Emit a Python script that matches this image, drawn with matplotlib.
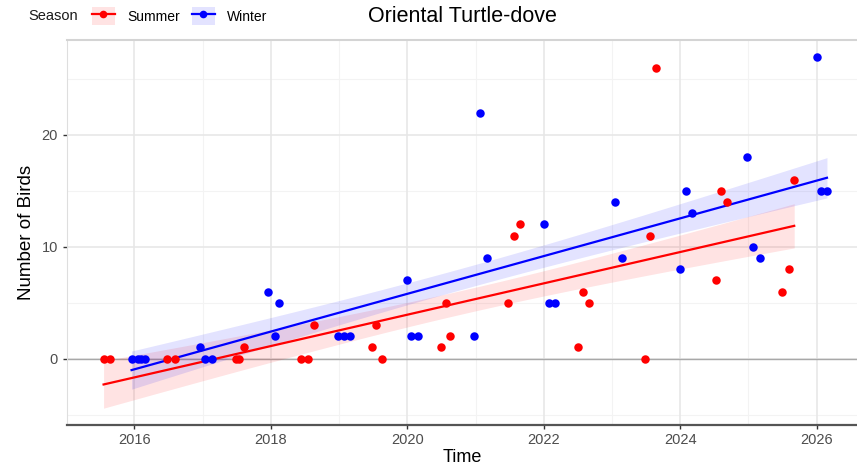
import numpy as np
import matplotlib
matplotlib.use("Agg")
import matplotlib.pyplot as plt
from matplotlib.lines import Line2D
from matplotlib.patches import Patch

plt.rcParams['font.family'] = ['Liberation Sans', 'DejaVu Sans']

summer_t = [2015.55, 2015.64, 2016.48, 2016.60, 2017.49, 2017.53, 2017.61, 2018.45, 2018.54, 2018.64,
            2019.48, 2019.54, 2019.63, 2020.49, 2020.57, 2020.63, 2021.48, 2021.57, 2021.65,
            2022.50, 2022.57, 2022.66, 2023.48, 2023.55, 2023.65, 2024.52, 2024.60, 2024.68,
            2025.49, 2025.59, 2025.67]
summer_n = [0, 0, 0, 0, 0, 0, 1, 0, 0, 3,
            1, 3, 0, 1, 5, 2, 5, 11, 12,
            1, 6, 5, 0, 11, 26, 7, 15, 14,
            6, 8, 16]
winter_t = [2015.96, 2016.05, 2016.10, 2016.15, 2016.97, 2017.03, 2017.14, 2017.96, 2018.06, 2018.12,
            2018.98, 2019.07, 2019.16, 2019.99, 2020.05, 2020.16, 2020.98, 2021.07, 2021.17,
            2022.00, 2022.07, 2022.17, 2023.05, 2023.15, 2023.99, 2024.09, 2024.17,
            2024.98, 2025.07, 2025.17, 2026.00, 2026.06, 2026.15]
winter_n = [0, 0, 0, 0, 1, 0, 0, 6, 2, 5,
            2, 2, 2, 7, 2, 2, 2, 22, 9,
            12, 5, 5, 14, 9, 8, 15, 13,
            18, 10, 9, 27, 15, 15]

seasons = ["Summer", "Winter"]
colors = {"Summer": "#FF0000", "Winter": "#0000FF"}
fills = {"Summer": (1.0, 0.0, 0.0, 0.11), "Winter": (0.0, 0.0, 1.0, 0.11)}
data = {"Summer": (summer_t, summer_n), "Winter": (winter_t, winter_n)}

x_ticks = [2016, 2018, 2020, 2022, 2024, 2026]
y_ticks = [0, 10, 20]

fig = plt.figure(figsize=(8.57, 4.76), dpi=100)
ax = fig.add_axes([67 / 857, 51 / 476, (857 - 67) / 857, (425 - 40) / 476])

ax.set_xlim(2015.014, 2026.59)
ax.set_ylim(-5.93, 28.49)

# grid
for v in [2017, 2019, 2021, 2023, 2025]:
    ax.axvline(v, color="#f3f3f3", lw=0.8, zorder=0)
for v in [-5, 5, 15, 25]:
    ax.axhline(v, color="#f3f3f3", lw=0.8, zorder=0)
for v in x_ticks:
    ax.axvline(v, color="#e6e6e6", lw=1.1, zorder=0)
for v in y_ticks:
    ax.axhline(v, color="#e6e6e6", lw=1.1, zorder=0)
ax.axhline(0, color="#a8a8a8", lw=1.0, zorder=0.5)

band = 1.25  # half-width multiplier of the smoother band
for s in seasons:
    t = np.array(data[s][0], dtype=float)
    n = np.array(data[s][1], dtype=float)
    b, a = np.polyfit(t, n, 1)
    xs = np.linspace(t.min(), t.max(), 100)
    ys = a + b * xs
    resid = n - (a + b * t)
    sd = np.sqrt(np.sum(resid ** 2) / (len(t) - 2))
    se = sd * np.sqrt(1 / len(t) + (xs - t.mean()) ** 2 / np.sum((t - t.mean()) ** 2))
    ax.fill_between(xs, ys - band * se, ys + band * se, color=fills[s], lw=0, zorder=1)
    ax.plot(xs, ys, color=colors[s], lw=1.6, zorder=3)
    ax.plot(t, n, 'o', color=colors[s], ms=6.1, mec='none', zorder=4)

ax.set_xticks(x_ticks)
ax.set_xticklabels([str(v) for v in x_ticks])
ax.set_yticks(y_ticks)
ax.tick_params(axis='both', colors="#333333", labelcolor="#4d4d4d", labelsize=10.5, length=3, width=1)
ax.tick_params(axis='x', pad=2.5)

for side in ["top", "left", "right", "bottom"]:
    ax.spines[side].set_visible(False)
ax.spines["top"].set_visible(True)
ax.spines["top"].set_color("#d4d4d4")
ax.spines["top"].set_linewidth(1.5)
ax.spines["left"].set_visible(True)
ax.spines["left"].set_color("#dedede")
ax.spines["left"].set_linewidth(0.8)
ax.spines["bottom"].set_visible(True)
ax.spines["bottom"].set_color("#555555")
ax.spines["bottom"].set_linewidth(1.6)

ax.set_xlabel("Time", fontsize=13, labelpad=2)
ax.set_ylabel("Number of Birds", fontsize=13.5, labelpad=5)

fig.text(462 / 857, 1 - 17 / 476, "Oriental Turtle-dove", ha="center", va="center", fontsize=15.5)

fig.text(28 / 857, 1 - 16 / 476, "Season", ha="left", va="center", fontsize=10.5, color="#1a1a1a")
handles = []
for s in seasons:
    handles.append((Patch(facecolor=fills[s], edgecolor='none'),
                    Line2D([], [], color=colors[s], lw=1.6, marker='o', ms=5.5, mec='none')))
leg = fig.legend(handles, seasons, ncol=2, loc="center left", bbox_to_anchor=(92 / 857, 1 - 16 / 476),
                 frameon=False, fontsize=10, handlelength=1.65, handleheight=1.65, handletextpad=0.9,
                 columnspacing=0.85, borderaxespad=0, borderpad=0)

fig.savefig("out.png", dpi=100)
